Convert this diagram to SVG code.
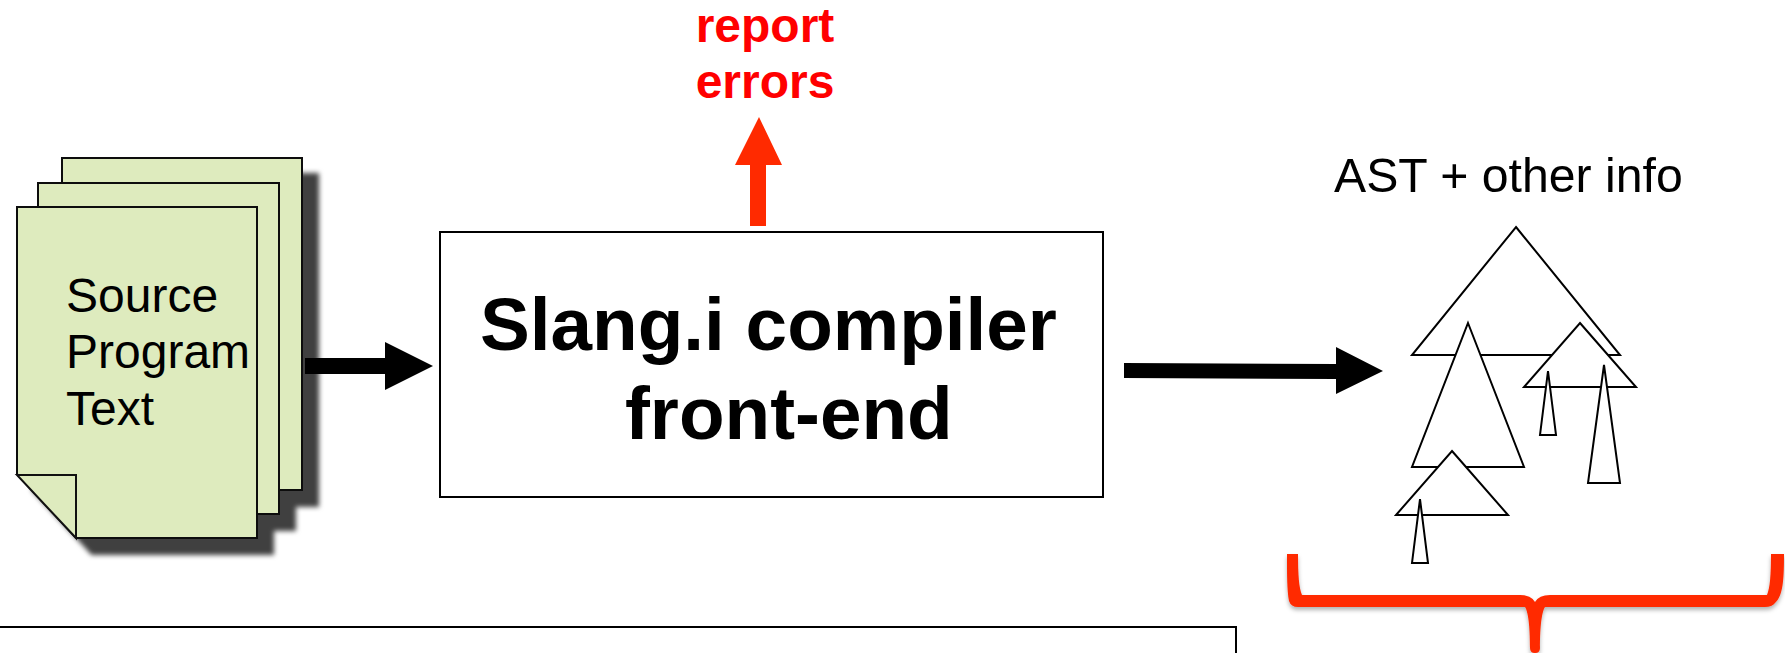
<svg xmlns="http://www.w3.org/2000/svg" width="1785" height="653" viewBox="0 0 1785 653">
  <defs>
    <filter id="pageShadow" x="-20%" y="-20%" width="150%" height="150%">
      <feDropShadow dx="16" dy="16" stdDeviation="2.5" flood-color="#000" flood-opacity="0.75"/>
    </filter>
    <filter id="braceShadow" x="-5%" y="-20%" width="110%" height="150%">
      <feDropShadow dx="0" dy="3" stdDeviation="2" flood-color="#000" flood-opacity="0.3"/>
    </filter>
  </defs>
  <style>
    text { font-family: "Liberation Sans", Arial, sans-serif; fill: #000; }
    .page { fill: #deebbe; stroke: #111; stroke-width: 2; }
    .box { fill: #fff; stroke: #000; stroke-width: 2; }
    .tri { fill: #fff; stroke: #000; stroke-width: 2; stroke-linejoin: miter; }
    .src { font-size: 48px; }
    .title { font-size: 74.7px; font-weight: bold; }
    .err { font-size: 48px; font-weight: bold; fill: #ff0000; text-anchor: middle; }
    .ast { font-size: 48.2px; }
    .black { fill: #000; }
    .red { fill: #ff2a00; }
  </style>

  <g id="source-program">
    <g filter="url(#pageShadow)">
      <path class="page" d="M62 158H302V490H121L62 426Z"/>
      <path class="page" d="M38 183H279V514H97L38 450Z"/>
      <path class="page" d="M17 207H257V538H76L17 474Z"/>
    </g>
    <path class="page" d="M17 475H76V538Z"/>
    <text class="src" x="66" y="312">Source</text>
    <text class="src" x="66" y="368">Program</text>
    <text class="src" x="66" y="425">Text</text>
  </g>

  <g id="compiler">
    <rect class="box" x="440" y="232" width="663" height="265"/>
    <text class="title" x="480" y="350">Slang.i compiler</text>
    <text class="title" x="625" y="439">front-end</text>
  </g>

  <g id="report-errors">
    <text class="err" x="765" y="42">report</text>
    <text class="err" x="765" y="98">errors</text>
  </g>

  <g id="ast">
    <text class="ast" x="1334" y="192">AST + other info</text>
    <path class="tri" d="M1516 227L1620 355H1412Z"/>
    <path class="tri" d="M1468 323L1524 467H1412Z"/>
    <path class="tri" d="M1580 323L1636 387H1524Z"/>
    <path class="tri" d="M1548 371L1556 435H1540Z"/>
    <path class="tri" d="M1604 365L1620 483H1588Z"/>
    <path class="tri" d="M1452 451L1508 515H1396Z"/>
    <path class="tri" d="M1420 499L1428 563H1412Z"/>
  </g>

  <g id="output-box">
    <path d="M0 627H1236V653" fill="none" stroke="#000" stroke-width="2"/>
  </g>

  <g id="connectors">
    <path class="black" d="M305 358H385V342L433 366L385 390V374H305Z"/>
    <path class="black" d="M1124 363L1336 364V347L1383 371L1336 394V379L1124 378Z"/>
    <path class="red" d="M750 226V165H735L759 117L782 165H766V226Z"/>
    <path class="red" filter="url(#braceShadow)" d="M1287 554H1298C1298 575 1299 588 1302 595H1520Q1531 595 1535 602Q1539 595 1550 595H1767C1770 588 1771 575 1771 554H1784C1784 580 1783 596 1775 603Q1772 607 1765 607H1545C1541 613 1540 632 1540 648Q1540 653 1535 653Q1530 653 1530 648C1530 632 1529 613 1525 607H1298Q1291 607 1289 601C1287 590 1287 575 1287 554Z"/>
  </g>
</svg>
